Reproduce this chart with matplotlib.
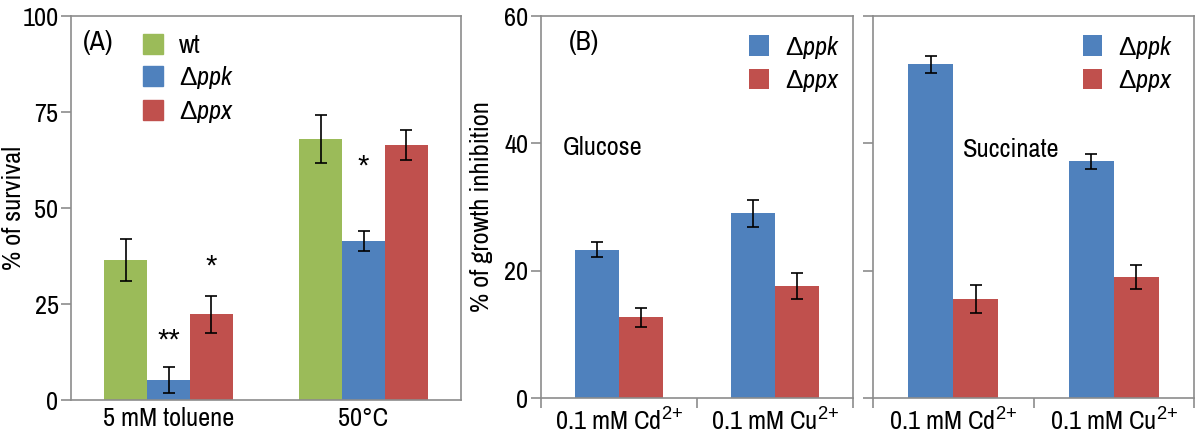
import matplotlib as mpl
import matplotlib.pyplot as plt
import numpy as np
from matplotlib.patches import Patch

FONT = 'Archivo Narrow'
plt.rcParams['font.family'] = [FONT, 'Liberation Sans']
plt.rcParams['mathtext.fontset'] = 'custom'
plt.rcParams['mathtext.rm'] = 'Liberation Sans'
plt.rcParams['mathtext.it'] = FONT + ':italic'
plt.rcParams['font.size'] = 18

green = '#9BBB59'
blue = '#4F81BD'
red = '#C0504D'
grey = '#8C8C8C'

# panel A data
cats_a = ['5 mM toluene', '50°C']
wt = [36.5, 67.9]
wt_err = [5.5, 6.2]
ppk_a = [5.2, 41.3]
ppk_a_err = [3.3, 2.6]
ppx_a = [22.3, 66.5]
ppx_a_err = [4.8, 3.9]
# significance marks: (text, series index, category index, height)
stars_a = [('**', 1, 0, 15.4), ('*', 2, 0, 34.7), ('*', 1, 1, 60.7)]

# panel B data (glucose) and C data (succinate)
cats_b = ['0.1 mM Cd$^{2{+}}$', '0.1 mM Cu$^{2{+}}$']
glu_ppk = [23.3, 29.0]
glu_ppk_err = [1.2, 2.1]
glu_ppx = [12.7, 17.6]
glu_ppx_err = [1.5, 2.1]
suc_ppk = [52.4, 37.2]
suc_ppk_err = [1.3, 1.2]
suc_ppx = [15.5, 19.0]
suc_ppx_err = [2.2, 1.9]

lab_ppk = r'$\Delta\mathit{ppk}$'
lab_ppx = r'$\Delta\mathit{ppx}$'

W, H = 1200, 437
fig = plt.figure(figsize=(12, 4.37), dpi=100)


def pix_axes(l, r, t, b):
    return fig.add_axes([l / W, 1 - b / H, (r - l) / W, (b - t) / H])


def style(ax):
    for s in ax.spines.values():
        s.set_color(grey)
        s.set_linewidth(1.2)
    ax.tick_params(color=grey, width=1.2, length=7, labelsize=19, pad=2)


ekw = dict(ecolor='k', capsize=4, elinewidth=1.2, capthick=1.2)
leg_kw = dict(frameon=False, handlelength=0.75, handleheight=0.8, labelspacing=0.28,
              handletextpad=0.6, fontsize=19, borderaxespad=0.2)

# ---- panel A
ax = pix_axes(71, 461, 16, 400)
x = np.arange(len(cats_a))
bw = 0.22
series = [(wt, wt_err, green, 'wt'), (ppk_a, ppk_a_err, blue, lab_ppk), (ppx_a, ppx_a_err, red, lab_ppx)]
for i, (v, e, c, lab) in enumerate(series):
    ax.bar(x + (i - 1) * bw, v, bw, yerr=e, color=c, error_kw=ekw, label=lab)
for txt, si, ci, h in stars_a:
    ax.text(ci + (si - 1) * bw, h, txt, ha='center', va='center', fontsize=21,
            family='Liberation Sans')
ax.set_xlim(-0.5, 1.5)
ax.set_ylim(0, 100)
ax.set_yticks([0, 25, 50, 75, 100])
ax.set_xticks(x)
ax.set_xticklabels(cats_a)
style(ax)
ax.tick_params(axis='x', length=0, pad=5)
ax.set_ylabel('% of survival', fontsize=19)
ax.yaxis.set_label_coords(-0.118, 0.5)
ax.text(0.03, 0.93, '(A)', transform=ax.transAxes, fontsize=20, va='center')
ax.legend(handles=[Patch(color=s[2], label=s[3]) for s in series], loc='upper left',
          bbox_to_anchor=(0.145, 0.995), **leg_kw)

# ---- panels B and C
bw2 = 0.28
xb = np.arange(len(cats_b))
panels = [
    (541, 853, glu_ppk, glu_ppk_err, glu_ppx, glu_ppx_err, 'Glucose', '(B)', 1.01),
    (873, 1194, suc_ppk, suc_ppk_err, suc_ppx, suc_ppx_err, 'Succinate', None, 0.985),
]
for l, r, pk, pke, px, pxe, medium, tag, lx in panels:
    ax = pix_axes(l, r, 16, 398)
    ax.bar(xb - bw2 / 2, pk, bw2, yerr=pke, color=blue, error_kw=ekw, label=lab_ppk)
    ax.bar(xb + bw2 / 2, px, bw2, yerr=pxe, color=red, error_kw=ekw, label=lab_ppx)
    ax.set_xlim(-0.5, 1.5)
    ax.set_ylim(0, 60)
    ax.set_yticks([0, 20, 40, 60])
    ax.set_xticks([-0.5, 0.5, 1.5])
    ax.set_xticklabels([])
    ax.set_xticks(xb, minor=True)
    ax.set_xticklabels(cats_b, minor=True)
    style(ax)
    ax.tick_params(axis='x', which='minor', length=0, pad=7, labelsize=19)
    if tag:
        ax.set_ylabel('% of growth inhibition', fontsize=19)
        ax.yaxis.set_label_coords(-0.154, 0.5)
        ax.text(0.09, 0.93, tag, transform=ax.transAxes, fontsize=20, va='center')
        ax.text(0.07, 0.655, medium, transform=ax.transAxes, fontsize=19, va='center')
    else:
        ax.set_yticklabels([])
        ax.text(0.28, 0.65, medium, transform=ax.transAxes, fontsize=19, va='center')
    ax.legend(loc='upper right', bbox_to_anchor=(lx, 0.995), **leg_kw)

fig.savefig('out.png', dpi=100)
